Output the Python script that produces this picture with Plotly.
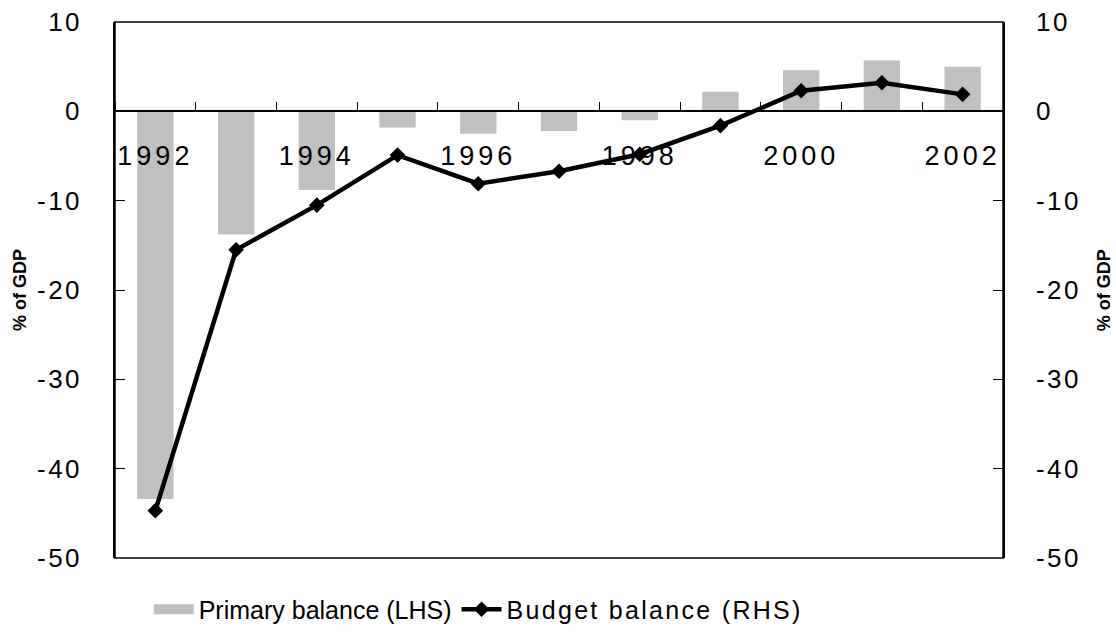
import plotly.graph_objects as go

# Fiscal balances, % of GDP
years = [1992, 1993, 1994, 1995, 1996, 1997, 1998, 1999, 2000, 2001, 2002]
primary_balance = [-43.4, -13.8, -8.8, -1.8, -2.5, -2.2, -1.0, 2.2, 4.6, 5.7, 5.0]
budget_balance = [-44.7, -15.5, -10.5, -4.9, -8.1, -6.7, -4.8, -1.6, 2.3, 3.2, 1.9]

year_labels = [1992, 1994, 1996, 1998, 2000, 2002]
y_ticks = [10, 0, -10, -20, -30, -40, -50]
axis_title = "% of GDP"

FONT = "Liberation Sans, Arial, sans-serif"
BAR_GREY = "#C0C0C0"


def spaced(text, px):
    return f'<span style="letter-spacing:{px}px">{text}</span>'


fig = go.Figure()

fig.add_trace(go.Bar(
    x=years, y=primary_balance,
    name="Primary balance (LHS)",
    marker=dict(color=BAR_GREY, line=dict(width=0)),
    width=0.45,
    yaxis="y",
    legendgroup="primary",
    showlegend=False,
))

# wide grey swatch for the bar series' legend entry
fig.add_trace(go.Scatter(
    x=[None], y=[None],
    name="Primary balance (LHS)",
    mode="lines",
    line=dict(color=BAR_GREY, width=15),
    legendgroup="primary",
    showlegend=True,
))

fig.add_trace(go.Scatter(
    x=years, y=budget_balance,
    name=spaced("Budget balance (RHS)", 2.3),
    mode="lines+markers",
    line=dict(color="black", width=4.5),
    marker=dict(symbol="diamond", size=12, color="black"),
    yaxis="y2",
))

y_common = dict(
    range=[-50, 10],
    tickvals=y_ticks,
    ticktext=[spaced(str(v), 2.5) for v in y_ticks],
    ticks="inside",
    ticklen=10,
    tickwidth=1,
    tickcolor="black",
    showline=True,
    linecolor="black",
    linewidth=1.5,
    showgrid=False,
    zeroline=False,
    automargin=False,
    tickfont=dict(family=FONT, size=26, color="black"),
    ticklabelstandoff=26,
)

# rotated "% of GDP" titles beside both value axes
title_font = dict(family=FONT, size=18, color="black")
annotations = [
    dict(text=f"<b>{axis_title}</b>", textangle=-90, showarrow=False,
         xref="paper", yref="paper", x=xpos, y=0.5,
         xanchor="center", yanchor="middle", font=title_font)
    for xpos in (-0.107, 1.114)
]

fig.update_layout(
    width=1116, height=641,
    margin=dict(l=115, r=113, t=22, b=83, autoexpand=False),
    paper_bgcolor="white",
    plot_bgcolor="white",
    bargap=0.55,
    xaxis=dict(
        range=[1991.5, 2002.5],
        anchor="free",
        position=50 / 60,
        tickvals=year_labels,
        ticktext=[spaced(str(v), 4) for v in year_labels],
        ticks="",
        showline=True,
        linecolor="black",
        linewidth=1.5,
        showgrid=False,
        zeroline=False,
        automargin=False,
        tickfont=dict(family=FONT, size=27, color="black"),
        ticklabelstandoff=21,
        minor=dict(tick0=1991.5, dtick=1, ticks="inside", ticklen=9,
                   tickwidth=1, tickcolor="black", showgrid=False),
    ),
    yaxis=dict(**y_common, side="left"),
    yaxis2=dict(**y_common, side="right", overlaying="y", anchor="x"),
    legend=dict(
        orientation="h",
        x=0.409, xanchor="center",
        y=-0.096, yanchor="middle",
        font=dict(family=FONT, size=25, color="black"),
        bgcolor="rgba(0,0,0,0)",
        itemwidth=40,
        traceorder="normal",
    ),
    showlegend=True,
    annotations=annotations,
    shapes=[dict(type="rect", xref="paper", yref="paper",
                 x0=0, x1=1, y0=0, y1=1,
                 line=dict(color="black", width=1.5), layer="above")],
)

fig.write_html("out.html")
